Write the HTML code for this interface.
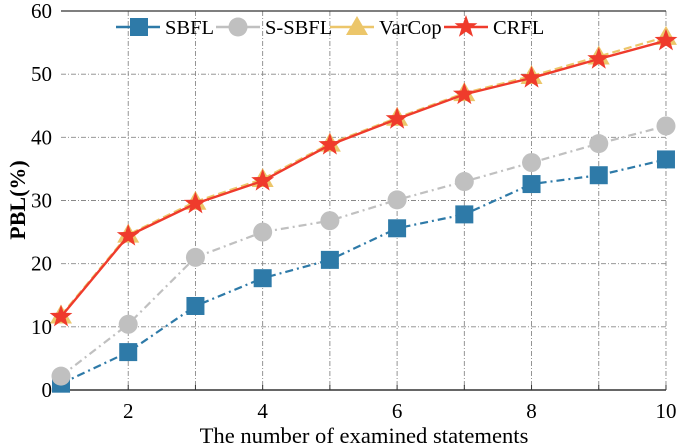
<!DOCTYPE html>
<html><head><meta charset="utf-8"><style>
html,body{margin:0;padding:0;background:#fff;}
svg{display:block;font-family:"Liberation Serif",serif;}
</style></head><body>
<svg id="s" width="678" height="447" viewBox="0 0 678 447" xmlns="http://www.w3.org/2000/svg"></svg>
<script>
const s=document.getElementById('s');
const X=v=>61+(v-1)*67.22, Y=v=>390-v*6.317;
let h='';
for(let i=2;i<=10;i++){h+=`<line x1="${X(i)}" y1="11" x2="${X(i)}" y2="390" stroke="#888" stroke-width="0.9" stroke-dasharray="5,2,1,2"/>`;}
for(let v=10;v<=50;v+=10){h+=`<line x1="61" y1="${Y(v)}" x2="666" y2="${Y(v)}" stroke="#888" stroke-width="0.9" stroke-dasharray="5,2,1,2"/>`;}
h+=`<line x1="61" y1="11" x2="666" y2="11" stroke="#333" stroke-width="1.2"/>`;
h+=`<line x1="61" y1="390" x2="666" y2="390" stroke="#333" stroke-width="1.5"/>`;
for(let i=1;i<=10;i++){h+=`<line x1="${X(i)}" y1="390" x2="${X(i)}" y2="385" stroke="#333" stroke-width="1"/>`;}
for(let v=0;v<=60;v+=10){h+=`<text x="52" y="${Y(v)+7}" font-size="21" text-anchor="end">${v}</text>`;}
for(let i=2;i<=10;i+=2){h+=`<text x="${X(i)}" y="418" font-size="21" text-anchor="middle">${i}</text>`;}
h+=`<text x="364" y="443" font-size="22.6" text-anchor="middle">The number of examined statements</text>`;
h+=`<text transform="translate(25,200) rotate(-90)" font-size="22" font-weight="bold" text-anchor="middle">PBL(%)</text>`;
const sb=[1,6,13.3,17.7,20.6,25.6,27.8,32.6,34,36.5];
const ss=[2.2,10.4,21,25,26.8,30.1,33,36,39,41.8];
const vc=[11.8,24.6,29.8,33.4,39,43.1,47,49.7,52.8,55.9];
const cr=[11.6,24.4,29.5,33.1,38.8,42.9,46.8,49.4,52.4,55.3];
const pts=a=>a.map((v,i)=>X(i+1)+','+Y(v)).join(' ');
const sq=(x,y,c)=>`<rect x="${x-9}" y="${y-9}" width="18" height="18" fill="${c}"/>`;
const ci=(x,y,c)=>`<circle cx="${x}" cy="${y}" r="9.5" fill="${c}"/>`;
const tr=(x,y,c)=>`<polygon points="${x},${y-11} ${x+11},${y+8} ${x-11},${y+8}" fill="${c}"/>`;
const st=(x,y,c)=>{let p=[];for(let k=0;k<10;k++){const r=k%2?4.8:12,a=-Math.PI/2+k*Math.PI/5;p.push((x+r*Math.cos(a)).toFixed(1)+','+(y+r*Math.sin(a)).toFixed(1));}return `<polygon points="${p.join(' ')}" fill="${c}"/>`;};
const series=[[sb,'#2e7aa8',sq,'8,4,2,4',2.2],[ss,'#c0c0c0',ci,'8,4,2,4',2.2],[vc,'#ecc66a',tr,'8,4',2.2],[cr,'#ef3b2c',st,'',2.4]];
for(const [d,c,m,da,w] of series){
 h+=`<polyline points="${pts(d)}" fill="none" stroke="${c}" stroke-width="${w}" ${da?`stroke-dasharray="${da}"`:''}/>`;
 d.forEach((v,i)=>h+=m(X(i+1),Y(v),c));
}
const L=[[116,139,165,'SBFL','#2e7aa8',sq],[216,238,265,'S-SBFL','#c0c0c0',ci],[330,357,379,'VarCop','#ecc66a',tr],[444,466,493,'CRFL','#ef3b2c',st]];
for(const [x0,mx,tx,t,c,m] of L){
 h+=`<line x1="${x0}" y1="27" x2="${x0+44}" y2="27" stroke="${c}" stroke-width="2.4"/>`+m(mx,27,c)+`<text x="${tx}" y="34" font-size="20.5">${t}</text>`;
}
s.innerHTML=h;
</script>
</body></html>
